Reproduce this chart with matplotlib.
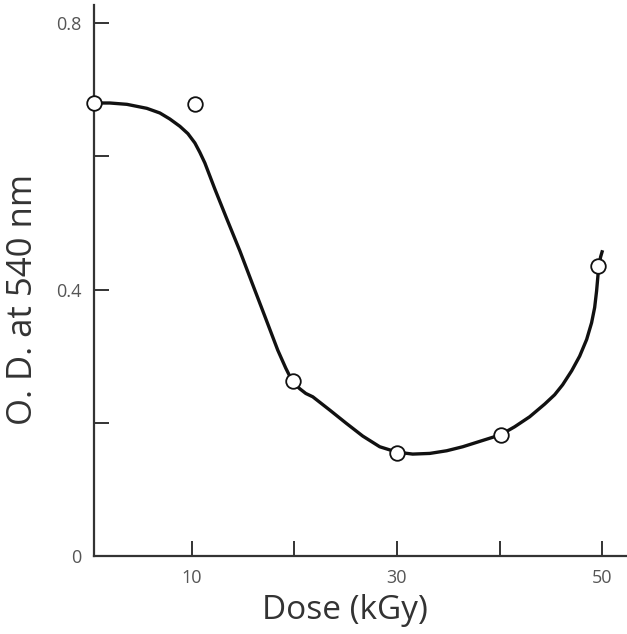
import matplotlib
matplotlib.use('Agg')
import matplotlib.pyplot as plt

plt.rcParams['font.family'] = ['Open Sans', 'DejaVu Sans']

# measured points (dose kGy, O.D. at 540 nm)
dose = [0.5, 10.3, 19.9, 30.0, 40.1, 49.6]
od = [0.68, 0.678, 0.263, 0.155, 0.182, 0.435]

# hand-drawn fitted curve
curve_x = [0.49, 2.04, 3.70, 5.64, 6.91, 7.88, 8.86, 9.64, 10.32, 10.80,
           11.29, 12.26, 13.43, 14.70, 15.96, 17.13, 18.39, 19.17, 19.85, 20.54,
           21.12, 21.80, 23.46, 25.08, 26.67, 28.32, 29.98, 31.53, 33.19, 34.84,
           36.40, 38.25, 40.10, 41.46, 42.92, 44.38, 45.35, 46.13, 47.01, 47.79,
           48.47, 48.95, 49.25, 49.44, 49.64, 49.83, 50.02]
curve_y = [0.680, 0.680, 0.678, 0.672, 0.665, 0.656, 0.645, 0.634, 0.620, 0.606,
           0.590, 0.551, 0.506, 0.458, 0.407, 0.360, 0.309, 0.282, 0.261, 0.251,
           0.244, 0.239, 0.219, 0.199, 0.180, 0.164, 0.156, 0.153, 0.154, 0.158,
           0.164, 0.173, 0.182, 0.194, 0.209, 0.228, 0.242, 0.257, 0.278, 0.300,
           0.325, 0.350, 0.373, 0.398, 0.433, 0.449, 0.459]

xticks = [10, 20, 30, 40, 50]
xtick_labels = ['10', '', '30', '', '50']
yticks = [0, 0.2, 0.4, 0.6, 0.8]
ytick_labels = ['0', '', '0.4', '', '0.8']

fig = plt.figure(figsize=(6.27, 6.34), dpi=100)
ax = fig.add_axes([0.150, 0.123, 0.85, 0.869])

ax.plot(curve_x, curve_y, color='#111111', lw=2.4, solid_joinstyle='round',
        solid_capstyle='butt', zorder=2)
ax.plot(dose, od, 'o', ms=10.5, mfc='white', mec='#111111', mew=1.3,
        clip_on=False, zorder=3)

ax.set_xlim(0.5, 52.4)
ax.set_ylim(0, 0.827)
ax.set_xticks(xticks)
ax.set_xticklabels(xtick_labels)
ax.set_yticks(yticks)
ax.set_yticklabels(ytick_labels)

for s in ['top', 'right']:
    ax.spines[s].set_visible(False)
for s in ['left', 'bottom']:
    ax.spines[s].set_color('#333333')
    ax.spines[s].set_linewidth(1.6)

ax.tick_params(direction='in', length=11, width=1.4, color='#333333',
               labelsize=13, labelcolor='#555555', pad=9)

ax.set_xlabel('Dose (kGy)', fontsize=24, color='#333333', va='center')
ax.xaxis.set_label_coords(0.471, -0.098)
ax.set_ylabel('O. D. at 540 nm', fontsize=25, color='#333333', va='center')
ax.yaxis.set_label_coords(-0.133, 0.465)

fig.savefig('out.png', dpi=100)
